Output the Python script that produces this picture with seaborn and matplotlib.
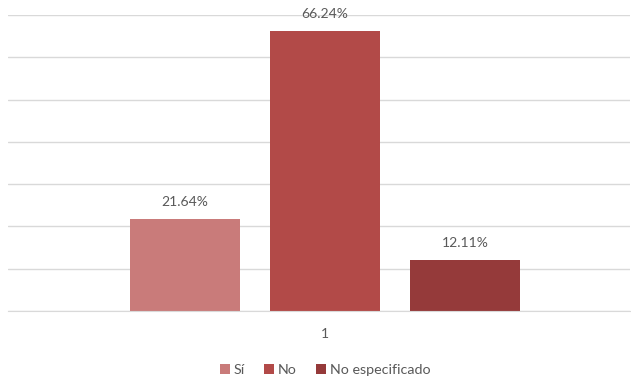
import pandas as pd
import matplotlib
matplotlib.use("Agg")
import matplotlib.pyplot as plt
import seaborn as sns

# datos del gráfico
categorias = ["1", "1", "1"]
series = ["Sí", "No", "No especificado"]
porcentajes = [21.64, 66.24, 12.11]
colores = ["#C97B7A", "#B24A48", "#953A3A"]

df = pd.DataFrame({"categoria": categorias, "serie": series, "valor": porcentajes})

sns.set_style("white")
plt.rcParams['font.family'] = ['Lato', 'DejaVu Sans']

fig = plt.figure(figsize=(6.31, 3.81), dpi=100)
ax = fig.add_axes([8 / 631, 70 / 381, 622 / 631, 296 / 381])

sns.barplot(data=df, x="categoria", y="valor", hue="serie", hue_order=series,
            palette=colores, width=0.8, gap=0.214, ax=ax, legend=True,
            edgecolor="none", saturation=1)

ax.set_ylim(0, 70)
ax.set_xlim(-0.604, 0.581)
ax.set_yticks(range(0, 71, 10))
ax.yaxis.grid(True, color="#D9D9D9", linewidth=1)
ax.set_axisbelow(True)
ax.tick_params(axis="y", left=False, labelleft=False)
ax.tick_params(axis="x", bottom=False, labelsize=10, labelcolor="#595959", pad=9)
ax.set_xlabel("")
ax.set_ylabel("")
for s in ["top", "right", "left"]:
    ax.spines[s].set_visible(False)
ax.spines["bottom"].set_color("#D9D9D9")

for cont in ax.containers:
    ax.bar_label(cont, labels=[f"{v:.2f}%" for v in cont.datavalues],
                 padding=8, fontsize=10, color="#595959")

ax.legend(loc="center", bbox_to_anchor=(317 / 622, -59 / 296), ncol=3,
          frameon=False, fontsize=10.3, labelcolor="#595959",
          handlelength=0.7, handleheight=0.7, handletextpad=0.3,
          columnspacing=1.3)

fig.savefig("out.png", dpi=100)
